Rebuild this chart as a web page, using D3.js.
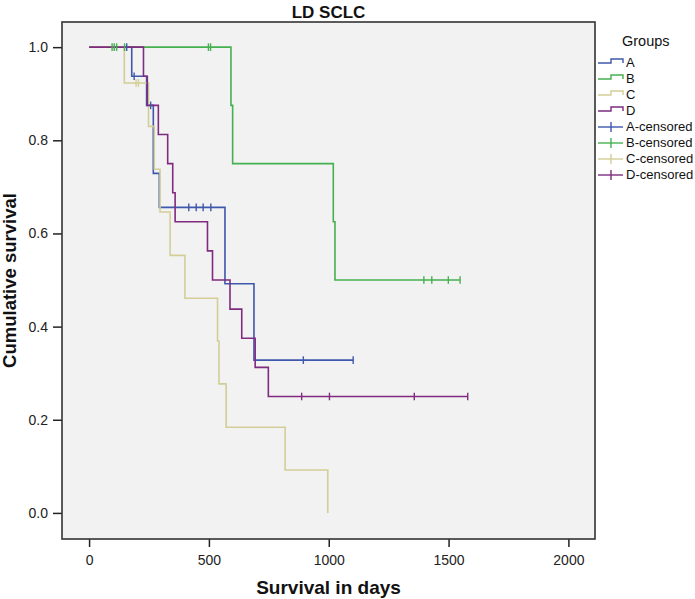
<!DOCTYPE html>
<html>
<head>
<meta charset="utf-8">
<script src="https://cdn.jsdelivr.net/npm/d3@7"></script>
<style>
  html, body { margin: 0; padding: 0; background: #ffffff; }
  svg { display: block; font-family: "Liberation Sans", Arial, sans-serif; }
</style>
</head>
<body>
<svg id="chart" width="695" height="599"></svg>
<script>
// ---------------- data ----------------
const groups = ["A", "B", "C", "D"];
const groupColors = ["#3e58ac", "#45b04f", "#d3ce97", "#7f2b80"];

// step change times (days) and survival after each change
const timesA = [0, 178, 240, 268, 293, 567, 688];
const survA  = [1, 0.9375, 0.875, 0.729, 0.656, 0.492, 0.328];
const endA   = 1102;
const censA  = [157, 188, 257, 416, 447, 476, 508, 894, 1102];

const timesB = [0, 592, 599, 1019, 1026];
const survB  = [1, 0.875, 0.75, 0.625, 0.5];
const endB   = 1548;
const censB  = [96, 105, 115, 148, 498, 507, 1397, 1430, 1499, 1548];

const timesC = [0, 147, 248, 272, 296, 338, 400, 536, 542, 572, 818, 996];
const survC  = [1, 0.923, 0.830, 0.738, 0.646, 0.553, 0.461, 0.369, 0.277, 0.184, 0.092, 0];
const endC   = 996;
const censC  = [196, 206];

const timesD = [0, 227, 243, 289, 328, 349, 359, 494, 515, 588, 637, 693, 748];
const survD  = [1, 0.9375, 0.875, 0.8125, 0.75, 0.6875, 0.625, 0.5625, 0.5, 0.4375, 0.375, 0.3125, 0.25];
const endD   = 1580;
const censD  = [887, 1003, 1357, 1580];

const xTicks = [0, 500, 1000, 1500, 2000];
const yTicks = [0, 0.2, 0.4, 0.6, 0.8, 1.0];
const legendLabels = ["A", "B", "C", "D", "A-censored", "B-censored", "C-censored", "D-censored"];

const chartTitle = "LD SCLC";
const xTitle = "Survival in days";
const yTitle = "Cumulative survival";
const legendTitle = "Groups";

// ---------------- layout ----------------
const frame = { left: 62, right: 595, top: 22, bottom: 539 };
const svg = d3.select("#chart");

const x = d3.scaleLinear().domain([-113, 2111]).range([frame.left, frame.right]);
const y = d3.scaleLinear().domain([-0.056, 1.054]).range([frame.bottom, frame.top]);

const series = [
  { name: "A", times: timesA, surv: survA, end: endA, cens: censA },
  { name: "B", times: timesB, surv: survB, end: endB, cens: censB },
  { name: "C", times: timesC, surv: survC, end: endC, cens: censC },
  { name: "D", times: timesD, surv: survD, end: endD, cens: censD }
];

// plot background
svg.append("rect")
  .attr("x", frame.left).attr("y", frame.top)
  .attr("width", frame.right - frame.left).attr("height", frame.bottom - frame.top)
  .attr("fill", "#f2f2f2");

// title
svg.append("text")
  .attr("x", (frame.left + frame.right) / 2).attr("y", 18)
  .attr("text-anchor", "middle")
  .attr("font-size", 17).attr("font-weight", "bold").attr("fill", "#111")
  .text(chartTitle);

// axes
const xAxis = d3.axisBottom(x).tickValues(xTicks).tickSize(8).tickPadding(8).tickFormat(d3.format("d"));
const gx = svg.append("g").attr("transform", `translate(0,${frame.bottom})`).call(xAxis);
gx.select(".domain").remove();
gx.selectAll(".tick line").attr("stroke", "#222").attr("stroke-width", 1.5);
gx.selectAll(".tick text").attr("font-size", 14).attr("fill", "#222")
  .attr("font-family", "Liberation Sans, Arial, sans-serif");

const yAxis = d3.axisLeft(y).tickValues(yTicks).tickSize(9).tickPadding(5).tickFormat(d3.format(".1f"));
const gy = svg.append("g").attr("transform", `translate(${frame.left},0)`).call(yAxis);
gy.select(".domain").remove();
gy.selectAll(".tick line").attr("stroke", "#222").attr("stroke-width", 1.5);
gy.selectAll(".tick text").attr("font-size", 14).attr("fill", "#222")
  .attr("font-family", "Liberation Sans, Arial, sans-serif");

// axis titles
svg.append("text")
  .attr("x", (frame.left + frame.right) / 2).attr("y", 594)
  .attr("text-anchor", "middle")
  .attr("font-size", 19).attr("font-weight", "bold").attr("fill", "#111")
  .text(xTitle);

svg.append("text")
  .attr("transform", `translate(16,${(frame.top + frame.bottom) / 2}) rotate(-90)`)
  .attr("text-anchor", "middle")
  .attr("font-size", 18.5).attr("font-weight", "bold").attr("fill", "#111")
  .text(yTitle);

// survival curves
const stepLine = d3.line()
  .x(d => x(d[0])).y(d => y(d[1]))
  .curve(d3.curveStepAfter);

function survAt(s, t) {
  let v = s.surv[0];
  for (let i = 0; i < s.times.length; i++) {
    if (s.times[i] <= t) v = s.surv[i];
  }
  return v;
}

const plot = svg.append("g");
series.forEach((s, i) => {
  const pts = s.times.map((t, j) => [t, s.surv[j]]);
  pts.push([s.end, s.surv[s.surv.length - 1]]);
  plot.append("path")
    .attr("d", stepLine(pts))
    .attr("fill", "none")
    .attr("stroke", groupColors[i])
    .attr("stroke-width", 1.6);
});
series.forEach((s, i) => {
  plot.selectAll(null)
    .data(s.cens)
    .enter().append("line")
    .attr("x1", d => x(d)).attr("x2", d => x(d))
    .attr("y1", d => y(survAt(s, d)) - 3.8)
    .attr("y2", d => y(survAt(s, d)) + 3.8)
    .attr("stroke", groupColors[i])
    .attr("stroke-width", 1.4);
});

// frame
svg.append("rect")
  .attr("x", frame.left).attr("y", frame.top)
  .attr("width", frame.right - frame.left).attr("height", frame.bottom - frame.top)
  .attr("fill", "none").attr("stroke", "#333").attr("stroke-width", 1.6);

// legend
const lg = svg.append("g");
lg.append("text")
  .attr("x", 622).attr("y", 46)
  .attr("font-size", 14.5).attr("fill", "#111")
  .text(legendTitle);

legendLabels.forEach((lab, i) => {
  const base = 67 + i * 16;
  const gi = i % 4;
  const col = groupColors[gi];
  const ly = base - 4;
  if (i < 4) {
    lg.append("path")
      .attr("d", `M598,${ly} H611 V${ly - 4} H623 V${ly}`)
      .attr("fill", "none").attr("stroke", col).attr("stroke-width", 1.4);
  } else {
    lg.append("line").attr("x1", 598).attr("x2", 623).attr("y1", ly).attr("y2", ly)
      .attr("stroke", col).attr("stroke-width", 1.4);
    lg.append("line").attr("x1", 611).attr("x2", 611).attr("y1", ly - 5).attr("y2", ly + 5)
      .attr("stroke", col).attr("stroke-width", 1.4);
  }
  lg.append("text")
    .attr("x", 626).attr("y", base)
    .attr("font-size", 13).attr("fill", "#111")
    .text(lab);
});
</script>
</body>
</html>
